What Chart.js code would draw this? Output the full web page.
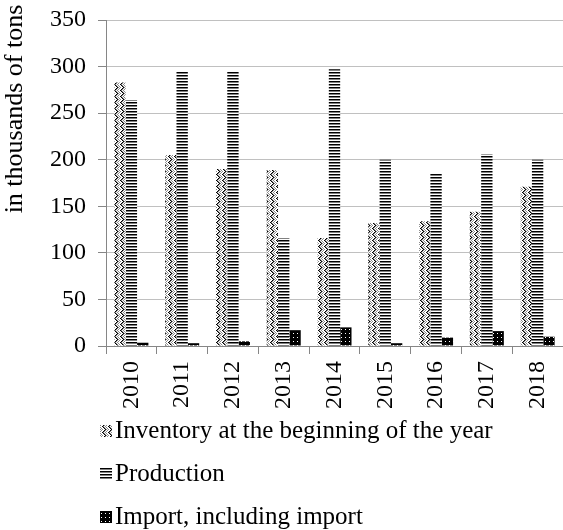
<!DOCTYPE html>
<html>
<head>
<meta charset="utf-8">
<script src="https://cdn.jsdelivr.net/npm/chart.js@4.4.1/dist/chart.umd.min.js"></script>
<style>
  html, body { margin: 0; padding: 0; background: #fff; }
</style>
</head>
<body>
<canvas id="chart" width="563" height="530"></canvas>
<script>
// data (thousands of tons)
const years = ["2010", "2011", "2012", "2013", "2014", "2015", "2016", "2017", "2018"];
const inventory = [283, 205, 190, 189, 116, 132, 134, 144, 171];
const production = [264, 295, 295, 116, 297, 200, 185, 206, 200];
const imports = [3.5, 3, 5, 17, 20, 3, 9, 16, 10];
const seriesNames = ["Inventory at the beginning of the year", "Production", "Import, including import"];
const yTicks = [0, 50, 100, 150, 200, 250, 300, 350];
const yTitle = "in thousands of tons";

const SERIF = '"Liberation Serif", "Times New Roman", serif';

// small tile -> canvas pattern, like the excel fills
function makePattern(w, h, paint) {
  const c = document.createElement("canvas");
  c.width = w;
  c.height = h;
  const g = c.getContext("2d");
  g.fillStyle = "#fff";
  g.fillRect(0, 0, w, h);
  paint(g);
  return document.createElement("canvas").getContext("2d").createPattern(c, "repeat");
}

// zig zag
const zigzag = makePattern(6, 6, g => {
  for (let y = 0; y < 6; y++) {
    const x = y <= 3 ? y : 6 - y;
    g.fillStyle = "#000";
    g.fillRect(x, y, 1, 1);
    g.fillStyle = "#8a8a8a";
    g.fillRect((x + 1) % 6, y, 1, 1);
    g.fillRect((x + 3) % 6, y, 1, 1);
  }
});

// narrow horizontal lines: black, grey, white
const hlines = makePattern(3, 3, g => {
  g.fillStyle = "#000";
  g.fillRect(0, 0, 3, 1);
  g.fillStyle = "#808080";
  g.fillRect(0, 1, 3, 1);
});

// black with white dots
const dots = makePattern(4, 4, g => {
  g.fillStyle = "#000";
  g.fillRect(0, 0, 4, 4);
  g.fillStyle = "#fff";
  g.fillRect(1, 1, 1, 1);
});

Chart.defaults.font.family = SERIF;
Chart.defaults.color = "#000";

const titlePlugin = {
  id: "yTitle",
  afterDraw(chart) {
    const ctx = chart.ctx;
    ctx.save();
    ctx.translate(22, 109);
    ctx.rotate(-Math.PI / 2);
    ctx.font = "26px " + SERIF;
    ctx.fillStyle = "#000";
    ctx.textAlign = "center";
    ctx.textBaseline = "alphabetic";
    ctx.fillText(yTitle, 0, 0);
    ctx.restore();
  }
};

// legend stacked one per line under the axis
const legendPlugin = {
  id: "stackedLegend",
  afterDraw(chart) {
    const ctx = chart.ctx;
    ctx.save();
    ctx.font = "25px " + SERIF;
    ctx.textBaseline = "middle";
    chart.data.datasets.forEach((ds, i) => {
      const y = 431 + i * 43;
      ctx.fillStyle = ds.backgroundColor;
      ctx.fillRect(100, y - 6, 12, 12);
      ctx.fillStyle = "#000";
      ctx.fillText(ds.label, 115, y);
    });
    ctx.restore();
  }
};

// keep the plot box where the reference has it
function noScalePadding(scale) {
  scale.paddingLeft = 0;
  scale.paddingRight = 0;
  scale.paddingTop = 0;
  scale.paddingBottom = 0;
}

new Chart(document.getElementById("chart"), {
  type: "bar",
  data: {
    labels: years,
    datasets: [
      { label: seriesNames[0], data: inventory, backgroundColor: zigzag },
      { label: seriesNames[1], data: production, backgroundColor: hlines },
      { label: seriesNames[2], data: imports, backgroundColor: dots }
    ]
  },
  options: {
    responsive: false,
    animation: false,
    layout: { padding: { top: 20, right: 0, bottom: 0, left: 0 } },
    datasets: {
      bar: { barPercentage: 1, categoryPercentage: 0.67 }
    },
    plugins: {
      legend: { display: false },
      tooltip: { enabled: false }
    },
    scales: {
      x: {
        grid: { drawOnChartArea: false, tickLength: 8, tickColor: "#868686" },
        border: { color: "#868686" },
        ticks: {
          font: { size: 24 },
          minRotation: 90,
          maxRotation: 90,
          autoSkip: false,
          padding: 7
        },
        afterFit(scale) {
          scale.height = 184;
          noScalePadding(scale);
        }
      },
      y: {
        min: 0,
        max: 350,
        afterBuildTicks(scale) { scale.ticks = yTicks.map(v => ({ value: v })); },
        grid: { color: "#c0c0c0", tickLength: 8, tickColor: "#868686" },
        border: { color: "#868686" },
        ticks: { font: { size: 24 }, padding: 12 },
        afterFit(scale) {
          scale.width = 106;
          noScalePadding(scale);
        }
      }
    }
  },
  plugins: [titlePlugin, legendPlugin]
});
</script>
</body>
</html>
